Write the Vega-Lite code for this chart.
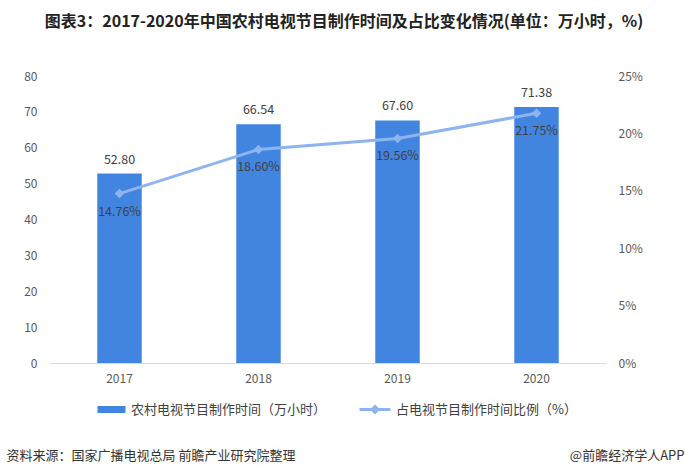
{
  "$schema": "https://vega.github.io/schema/vega-lite/v6.json",
  "width": 556,
  "height": 287,
  "autosize": {"type": "none"},
  "padding": {"left": 50, "top": 76, "right": 79, "bottom": 113},
  "background": "white",
  "config": {
    "view": {"stroke": null},
    "font": "Noto Sans CJK SC",
    "axis": {"grid": false, "ticks": false, "labelColor": "#595959", "labelFontSize": 12, "labelFont": "Noto Sans CJK SC", "labelOverlap": false},
    "legend": {"labelFont": "Noto Sans CJK SC"}
  },
  "title": {
    "text": "图表3：2017-2020年中国农村电视节目制作时间及占比变化情况(单位：万小时，%)",
    "fontSize": 16,
    "fontWeight": "bold",
    "color": "#222222",
    "anchor": "middle",
    "dx": 16,
    "offset": 40
  },
  "data": {
    "values": [
      {"year": "2017", "hours": 52.80, "ratio": 0.1476},
      {"year": "2018", "hours": 66.54, "ratio": 0.1860},
      {"year": "2019", "hours": 67.60, "ratio": 0.1956},
      {"year": "2020", "hours": 71.38, "ratio": 0.2175}
    ]
  },
  "encoding": {
    "x": {
      "field": "year",
      "type": "nominal",
      "scale": {"paddingInner": 0.68, "paddingOuter": 0.34},
      "axis": {
        "labelAngle": 0,
        "labelPadding": 10,
        "domainColor": "#d9d9d9",
        "title": "资料来源：国家广播电视总局 前瞻产业研究院整理",
        "titleFontSize": 13,
        "titleFontWeight": "normal",
        "titleColor": "#333333",
        "titleAlign": "left",
        "titleAnchor": "start",
        "titleBaseline": "middle",
        "titleX": -44,
        "titleY": 92
      }
    }
  },
  "layer": [
    {
      "encoding": {
        "y": {
          "field": "hours",
          "type": "quantitative",
          "scale": {"domain": [0, 80], "nice": false},
          "axis": {"orient": "left", "values": [0,10,20,30,40,50,60,70,80], "labelOverlap": false, "labelSeparation": 0, "domain": false, "title": null, "labelPadding": 13}
        }
      },
      "layer": [
        {
          "mark": {"type": "bar"},
          "encoding": {
            "fill": {
              "datum": "农村电视节目制作时间（万小时）",
              "scale": {"range": ["#4285e0"]},
              "legend": {
                "orient": "none",
                "legendX": 46,
                "legendY": 327,
                "title": null,
                "symbolType": "M-1,-0.7H4.6V0.7H-1Z",
                "symbolSize": 100,
                "symbolStrokeWidth": 0,
                "labelFontSize": 13,
                "labelColor": "#404040",
                "labelOffset": 22,
                "labelLimit": 0
              }
            }
          }
        },
        {
          "mark": {"type": "text", "dy": -14, "fontSize": 12.5, "color": "#404040", "baseline": "middle"},
          "encoding": {
            "text": {"field": "hours", "type": "quantitative", "format": ".2f"}
          }
        }
      ]
    },
    {
      "encoding": {
        "y": {
          "field": "ratio",
          "type": "quantitative",
          "scale": {"domain": [0, 0.25], "nice": false},
          "axis": {
            "orient": "right",
            "values": [0, 0.05, 0.1, 0.15, 0.2, 0.25],
            "format": ".0%",
            "labelOverlap": false,
            "domain": false,
            "labelPadding": 12,
            "title": "@前瞻经济学人APP",
            "titleAngle": 0,
            "titleFontSize": 13,
            "titleFontWeight": "normal",
            "titleColor": "#333333",
            "titleAlign": "right",
            "titleBaseline": "middle",
            "titleX": 78,
            "titleY": 379
          }
        }
      },
      "layer": [
        {
          "mark": {"type": "line", "strokeWidth": 3, "point": {"filled": true, "shape": "diamond", "size": 45, "color": "#8db4ee"}},
          "encoding": {
            "stroke": {
              "datum": "占电视节目制作时间比例（%）",
              "scale": {"range": ["#8db4ee"]},
              "legend": {
                "orient": "none",
                "legendX": 308,
                "legendY": 327,
                "title": null,
                "symbolType": "M-1,0H5.2M2.1,-0.6L2.7,0L2.1,0.6L1.5,0Z",
                "symbolSize": 100,
                "symbolStrokeWidth": 3,
                "symbolFillColor": "#8db4ee",
                "labelFontSize": 13,
                "labelColor": "#404040",
                "labelOffset": 25,
                "labelLimit": 0
              }
            }
          }
        },
        {
          "mark": {"type": "text", "dy": 18, "fontSize": 12.5, "color": "#404040", "baseline": "middle"},
          "encoding": {
            "text": {"field": "ratio", "type": "quantitative", "format": ".2%"}
          }
        }
      ]
    }
  ],
  "resolve": {"scale": {"y": "independent", "fill": "independent", "stroke": "independent"}}
}
